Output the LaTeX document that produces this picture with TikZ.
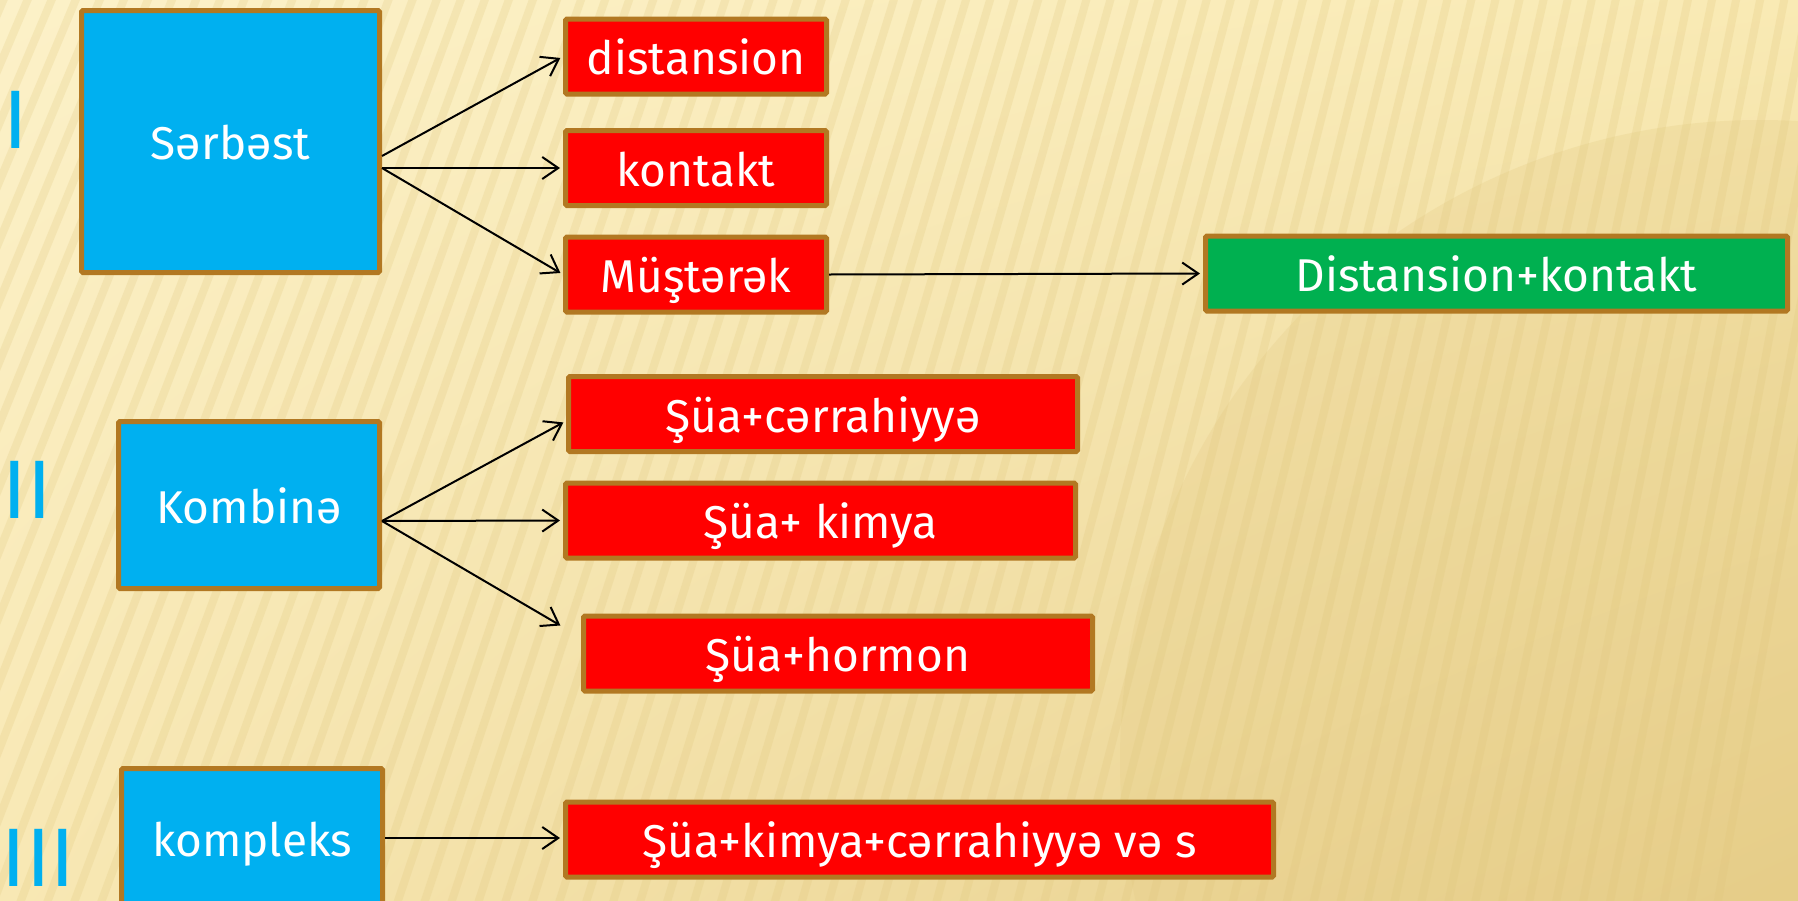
\documentclass[tikz,border=0pt]{standalone}
\usepackage{fontspec}
\setmainfont{Fira Sans}
\usetikzlibrary{arrows.meta,shadings}
\definecolor{paperUL}{RGB}{252,241,200}
\definecolor{paperUR}{RGB}{249,234,180}
\definecolor{paperLL}{RGB}{248,232,180}
\definecolor{paperLR}{RGB}{230,205,136}
\definecolor{stripe}{RGB}{222,196,120}
\definecolor{frame}{RGB}{178,120,34}
\definecolor{skyblue}{RGB}{0,176,240}
\definecolor{signalred}{RGB}{255,0,0}
\definecolor{leafgreen}{RGB}{0,176,80}
\tikzset{
  box/.style={draw=frame, line width=5pt, rounded corners=1.5pt, text=white,
    font=\fontsize{46}{50}\selectfont, inner sep=0pt, text height=36pt, text depth=0pt},
  mainbox/.style={box, fill=skyblue},
  redbox/.style={box, fill=signalred, minimum height=75pt},
  greenbox/.style={box, fill=leafgreen, minimum height=75pt},
  numeral/.style={text=skyblue, font=\fontsize{83}{90}\selectfont, inner sep=0pt},
  link/.style={line width=2pt, -{Straight Barb[length=16pt,width=22pt]}, shorten >=3pt},
}
\begin{document}
\begin{tikzpicture}[x=1pt,y=-1pt]
  \useasboundingbox (0,0) rectangle (1798,900);
  \clip (0,0) rectangle (1798,900);
  % background
  \shade[upper left=paperUL, upper right=paperUR, lower left=paperLL, lower right=paperLR]
    (0,0) rectangle (1798,900);
  \fill[paperLR, opacity=0.3] (1760,760) circle (640);
  \foreach \sx in {-300,-276,...,1900} {
    \pgfmathsetmacro\slant{900*(0.45-0.25*max(0,\sx)/1800)}
    \draw[stripe, line width=8pt, opacity=0.22] (\sx,-20) -- (\sx-\slant,920);
  }

  % numerals
  \node[numeral] (numI) at (16,120) {I};
  \node[numeral] (numII) at (27,489.5) {II};
  \node[numeral] (numIII) at (38.5,857.5) {III};

  % groups
  \node[mainbox, minimum width=298pt, minimum height=262pt] (sarbest) at (230.5,141.5) {Sərbəst};
  \node[mainbox, minimum width=261pt, minimum height=167pt] (kombine) at (249,505) {Kombinə};
  \node[mainbox, minimum width=261pt, minimum height=139pt] (kompleks) at (252,838) {kompleks};

  % methods
  \node[redbox, minimum width=261pt] (distansion) at (696,56.5) {distansion};
  \node[redbox, minimum width=261pt] (kontakt) at (696,168) {kontakt};
  \node[redbox, minimum width=261pt] (musterek) at (696,274.5) {Müştərək};
  \node[greenbox, minimum width=582pt] (distkont) at (1496.5,273.5) {Distansion+kontakt};
  \node[redbox, minimum width=509pt] (suacer) at (823,414) {Şüa+cərrahiyyə};
  \node[redbox, minimum width=510pt] (suakim) at (820.5,520.5) {Şüa+ kimya};
  \node[redbox, minimum width=509pt] (suahor) at (838,653.5) {Şüa+hormon};
  \node[redbox, minimum width=708pt] (suakimcer) at (919.5,839.5) {Şüa+kimya+cərrahiyyə və s};

  % links
  \coordinate (sfork) at ([yshift=-26.5pt]sarbest.east);
  \coordinate (kfork) at ([yshift=-16pt]kombine.east);
  \coordinate (hend) at (563,627);
  \draw[link] ([yshift=-14.5pt]sarbest.east) -- (distansion.west);
  \draw[link] (sfork) -- (kontakt.west);
  \draw[link] (sfork) -- (musterek.west);
  \draw[link] (musterek.east) -- (distkont.west);
  \draw[link] (kfork) -- ([yshift=-7pt]suacer.west);
  \draw[link] (kfork) -- (suakim.west);
  \draw[link] (kfork) -- (hend);
  \draw[link] (kompleks.east) -- (kompleks.east -| suakimcer.west);
\end{tikzpicture}
\end{document}
